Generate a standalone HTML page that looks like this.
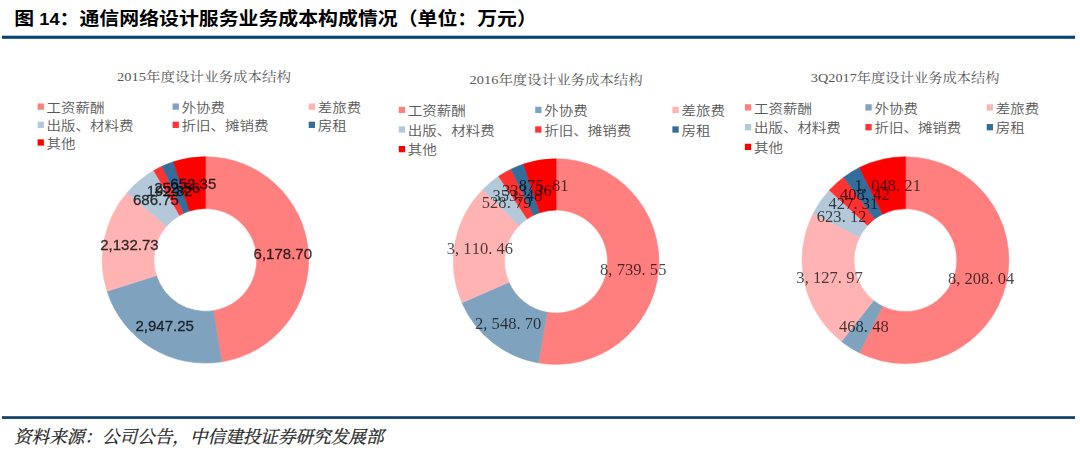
<!DOCTYPE html>
<html><head><meta charset="utf-8"><style>html,body{margin:0;padding:0;background:#fff;width:1080px;height:452px;overflow:hidden}svg{display:block}</style></head>
<body>
<svg width="1080" height="452" viewBox="0 0 1080 452">
<defs><filter id="soft" x="-5%" y="-5%" width="110%" height="110%"><feGaussianBlur stdDeviation="0.55"/></filter></defs>
<rect width="1080" height="452" fill="#fff"/>
<text transform="translate(0,17.9) scale(1,0.93)" y="7.6" font-family="'Liberation Sans','Noto Sans CJK SC',sans-serif" font-weight="bold" font-size="19.9" fill="#000"><tspan x="14.2">图</tspan><tspan x="39.3" font-size="18.2">14</tspan><tspan x="59.6">：通信网络设计服务业务成本构成情况（单位：万元）</tspan></text>
<rect x="2" y="35.7" width="1073" height="3.1" fill="#07446f"/>
<rect x="2" y="416.2" width="1073" height="2.7" fill="#0f3f69"/>
<text x="14" y="442.5" font-family="'Liberation Serif','Noto Serif CJK SC',serif" font-style="italic" font-size="17.6" fill="#222" stroke="#222" stroke-width="0.25">资料来源：公司公告，中信建投证券研究发展部</text>
<g filter="url(#soft)">
<path d="M205.40,156.70 A103.2,103.2 0 0 1 221.54,361.83 L213.44,310.67 A51.400000000000006,51.400000000000006 0 0 0 205.40,208.50 Z" fill="#ff7f7f" stroke="#ff7f7f" stroke-width="0.6" stroke-linejoin="round"/>
<path d="M221.54,361.83 A103.2,103.2 0 0 1 107.09,291.28 L156.43,275.53 A51.400000000000006,51.400000000000006 0 0 0 213.44,310.67 Z" fill="#7fa3bf" stroke="#7fa3bf" stroke-width="0.6" stroke-linejoin="round"/>
<path d="M107.09,291.28 A103.2,103.2 0 0 1 127.28,192.47 L166.49,226.31 A51.400000000000006,51.400000000000006 0 0 0 156.43,275.53 Z" fill="#ffb3b3" stroke="#ffb3b3" stroke-width="0.6" stroke-linejoin="round"/>
<path d="M127.28,192.47 A103.2,103.2 0 0 1 153.80,170.53 L179.70,215.39 A51.400000000000006,51.400000000000006 0 0 0 166.49,226.31 Z" fill="#b3c8d9" stroke="#b3c8d9" stroke-width="0.6" stroke-linejoin="round"/>
<path d="M153.80,170.53 A103.2,103.2 0 0 1 162.11,166.22 L183.84,213.24 A51.400000000000006,51.400000000000006 0 0 0 179.70,215.39 Z" fill="#ff3333" stroke="#ff3333" stroke-width="0.6" stroke-linejoin="round"/>
<path d="M162.11,166.22 A103.2,103.2 0 0 1 173.51,161.75 L189.52,211.02 A51.400000000000006,51.400000000000006 0 0 0 183.84,213.24 Z" fill="#336e99" stroke="#336e99" stroke-width="0.6" stroke-linejoin="round"/>
<path d="M173.51,161.75 A103.2,103.2 0 0 1 205.40,156.70 L205.40,208.50 A51.400000000000006,51.400000000000006 0 0 0 189.52,211.02 Z" fill="#ff0000" stroke="#ff0000" stroke-width="0.6" stroke-linejoin="round"/>
</g>
<text x="282.8" y="259.1" text-anchor="middle" font-family="'Liberation Sans',sans-serif" font-size="15" fill="#000" stroke="#000" stroke-width="0.3" opacity="0.8">6,178.70</text>
<text x="164.7" y="331.3" text-anchor="middle" font-family="'Liberation Sans',sans-serif" font-size="15" fill="#000" stroke="#000" stroke-width="0.3" opacity="0.8">2,947.25</text>
<text x="129.4" y="249.7" text-anchor="middle" font-family="'Liberation Sans',sans-serif" font-size="15" fill="#000" stroke="#000" stroke-width="0.3" opacity="0.8">2,132.73</text>
<text x="155.9" y="205.4" text-anchor="middle" font-family="'Liberation Sans',sans-serif" font-size="15" fill="#000" stroke="#000" stroke-width="0.3" opacity="0.8">686.75</text>
<text x="169.7" y="196.3" text-anchor="middle" font-family="'Liberation Sans',sans-serif" font-size="15" fill="#000" stroke="#000" stroke-width="0.3" opacity="0.8">192.82</text>
<text x="177.1" y="193.0" text-anchor="middle" font-family="'Liberation Sans',sans-serif" font-size="15" fill="#000" stroke="#000" stroke-width="0.3" opacity="0.8">252.56</text>
<text x="193.3" y="188.6" text-anchor="middle" font-family="'Liberation Sans',sans-serif" font-size="15" fill="#000" stroke="#000" stroke-width="0.3" opacity="0.8">652.35</text>
<text transform="translate(117.1,76.50) scale(1.0,0.87)" y="5.7" font-family="'Liberation Serif','Noto Serif CJK SC',serif" font-size="14.5" fill="#595959">2015年度设计业务成本结构</text>
<rect x="37.6" y="103.45" width="6.3" height="6.3" fill="#ff7f7f"/>
<text transform="translate(46.6,106.60) scale(1,0.89)" y="5.8" font-family="'Liberation Sans','Noto Sans CJK SC',sans-serif" font-size="14.5" font-weight="350" fill="#595959">工资薪酬</text>
<rect x="172.6" y="103.45" width="6.3" height="6.3" fill="#7fa3bf"/>
<text transform="translate(181.6,106.60) scale(1,0.89)" y="5.8" font-family="'Liberation Sans','Noto Sans CJK SC',sans-serif" font-size="14.5" font-weight="350" fill="#595959">外协费</text>
<rect x="308.7" y="103.45" width="6.3" height="6.3" fill="#ffb3b3"/>
<text transform="translate(317.7,106.60) scale(1,0.89)" y="5.8" font-family="'Liberation Sans','Noto Sans CJK SC',sans-serif" font-size="14.5" font-weight="350" fill="#595959">差旅费</text>
<rect x="37.6" y="121.65" width="6.3" height="6.3" fill="#b3c8d9"/>
<text transform="translate(46.6,124.80) scale(1,0.89)" y="5.8" font-family="'Liberation Sans','Noto Sans CJK SC',sans-serif" font-size="14.5" font-weight="350" fill="#595959">出版、材料费</text>
<rect x="172.6" y="121.65" width="6.3" height="6.3" fill="#ff3333"/>
<text transform="translate(181.6,124.80) scale(1,0.89)" y="5.8" font-family="'Liberation Sans','Noto Sans CJK SC',sans-serif" font-size="14.5" font-weight="350" fill="#595959">折旧、摊销费</text>
<rect x="308.7" y="121.65" width="6.3" height="6.3" fill="#336e99"/>
<text transform="translate(317.7,124.80) scale(1,0.89)" y="5.8" font-family="'Liberation Sans','Noto Sans CJK SC',sans-serif" font-size="14.5" font-weight="350" fill="#595959">房租</text>
<rect x="37.6" y="139.35" width="6.3" height="6.3" fill="#ff0000"/>
<text transform="translate(46.6,142.50) scale(1,0.89)" y="5.8" font-family="'Liberation Sans','Noto Sans CJK SC',sans-serif" font-size="14.5" font-weight="350" fill="#595959">其他</text>
<g filter="url(#soft)">
<path d="M556.10,158.80 A102.8,102.8 0 1 1 538.25,362.84 L547.16,312.32 A51.5,51.5 0 1 0 556.10,210.10 Z" fill="#ff7f7f" stroke="#ff7f7f" stroke-width="0.6" stroke-linejoin="round"/>
<path d="M538.25,362.84 A102.8,102.8 0 0 1 461.90,302.76 L508.91,282.22 A51.5,51.5 0 0 0 547.16,312.32 Z" fill="#7fa3bf" stroke="#7fa3bf" stroke-width="0.6" stroke-linejoin="round"/>
<path d="M461.90,302.76 A102.8,102.8 0 0 1 482.90,189.42 L519.43,225.44 A51.5,51.5 0 0 0 508.91,282.22 Z" fill="#ffb3b3" stroke="#ffb3b3" stroke-width="0.6" stroke-linejoin="round"/>
<path d="M482.90,189.42 A102.8,102.8 0 0 1 498.61,176.37 L527.30,218.90 A51.5,51.5 0 0 0 519.43,225.44 Z" fill="#b3c8d9" stroke="#b3c8d9" stroke-width="0.6" stroke-linejoin="round"/>
<path d="M498.61,176.37 A102.8,102.8 0 0 1 511.04,169.20 L533.52,215.31 A51.5,51.5 0 0 0 527.30,218.90 Z" fill="#ff3333" stroke="#ff3333" stroke-width="0.6" stroke-linejoin="round"/>
<path d="M511.04,169.20 A102.8,102.8 0 0 1 523.57,164.08 L539.80,212.75 A51.5,51.5 0 0 0 533.52,215.31 Z" fill="#336e99" stroke="#336e99" stroke-width="0.6" stroke-linejoin="round"/>
<path d="M523.57,164.08 A102.8,102.8 0 0 1 556.10,158.80 L556.10,210.10 A51.5,51.5 0 0 0 539.80,212.75 Z" fill="#ff0000" stroke="#ff0000" stroke-width="0.6" stroke-linejoin="round"/>
</g>
<text x="600.06 608.36 616.66 624.96 633.26 641.56 649.86 658.16" y="274.6" font-family="'Liberation Serif',serif" font-size="16.5" fill="#000" opacity="0.7">8,739.55</text>
<text x="475.00 483.30 491.60 499.90 508.20 516.50 524.80 533.10" y="328.7" font-family="'Liberation Serif',serif" font-size="16.5" fill="#000" opacity="0.7">2,548.70</text>
<text x="446.75 455.05 463.35 471.65 479.95 488.25 496.55 504.85" y="253.7" font-family="'Liberation Serif',serif" font-size="16.5" fill="#000" opacity="0.7">3,110.46</text>
<text x="481.73 490.03 498.33 506.63 514.93 523.23" y="208.2" font-family="'Liberation Serif',serif" font-size="16.5" fill="#000" opacity="0.7">528.79</text>
<text x="492.48 500.78 509.08 517.38 525.68 533.98" y="200.7" font-family="'Liberation Serif',serif" font-size="16.5" fill="#000" opacity="0.7">353.48</text>
<text x="501.90 510.20 518.50 526.80 535.10 543.40" y="196.1" font-family="'Liberation Serif',serif" font-size="16.5" fill="#000" opacity="0.7">333.36</text>
<text x="518.78 527.08 535.38 543.68 551.98 560.28" y="191.4" font-family="'Liberation Serif',serif" font-size="16.5" fill="#000" opacity="0.7">875.81</text>
<text transform="translate(469.6,79.50) scale(0.995,0.87)" y="5.7" font-family="'Liberation Serif','Noto Serif CJK SC',serif" font-size="14.5" fill="#595959">2016年度设计业务成本结构</text>
<rect x="398.8" y="106.75" width="6.3" height="6.3" fill="#ff7f7f"/>
<text transform="translate(407.8,109.90) scale(1,0.89)" y="5.8" font-family="'Liberation Sans','Noto Sans CJK SC',sans-serif" font-size="14.5" font-weight="350" fill="#595959">工资薪酬</text>
<rect x="535.2" y="106.75" width="6.3" height="6.3" fill="#7fa3bf"/>
<text transform="translate(544.2,109.90) scale(1,0.89)" y="5.8" font-family="'Liberation Sans','Noto Sans CJK SC',sans-serif" font-size="14.5" font-weight="350" fill="#595959">外协费</text>
<rect x="672.4" y="106.75" width="6.3" height="6.3" fill="#ffb3b3"/>
<text transform="translate(681.4,109.90) scale(1,0.89)" y="5.8" font-family="'Liberation Sans','Noto Sans CJK SC',sans-serif" font-size="14.5" font-weight="350" fill="#595959">差旅费</text>
<rect x="398.8" y="126.35" width="6.3" height="6.3" fill="#b3c8d9"/>
<text transform="translate(407.8,129.50) scale(1,0.89)" y="5.8" font-family="'Liberation Sans','Noto Sans CJK SC',sans-serif" font-size="14.5" font-weight="350" fill="#595959">出版、材料费</text>
<rect x="535.2" y="126.35" width="6.3" height="6.3" fill="#ff3333"/>
<text transform="translate(544.2,129.50) scale(1,0.89)" y="5.8" font-family="'Liberation Sans','Noto Sans CJK SC',sans-serif" font-size="14.5" font-weight="350" fill="#595959">折旧、摊销费</text>
<rect x="672.4" y="126.35" width="6.3" height="6.3" fill="#336e99"/>
<text transform="translate(681.4,129.50) scale(1,0.89)" y="5.8" font-family="'Liberation Sans','Noto Sans CJK SC',sans-serif" font-size="14.5" font-weight="350" fill="#595959">房租</text>
<rect x="398.8" y="145.95" width="6.3" height="6.3" fill="#ff0000"/>
<text transform="translate(407.8,149.10) scale(1,0.89)" y="5.8" font-family="'Liberation Sans','Noto Sans CJK SC',sans-serif" font-size="14.5" font-weight="350" fill="#595959">其他</text>
<g filter="url(#soft)">
<path d="M905.45,156.80 A103.4,103.4 0 1 1 859.36,352.76 L882.54,306.21 A51.400000000000006,51.400000000000006 0 1 0 905.45,208.80 Z" fill="#ff7f7f" stroke="#ff7f7f" stroke-width="0.6" stroke-linejoin="round"/>
<path d="M859.36,352.76 A103.4,103.4 0 0 1 841.43,341.40 L873.63,300.56 A51.400000000000006,51.400000000000006 0 0 0 882.54,306.21 Z" fill="#7fa3bf" stroke="#7fa3bf" stroke-width="0.6" stroke-linejoin="round"/>
<path d="M841.43,341.40 A103.4,103.4 0 0 1 813.27,213.36 L859.63,236.92 A51.400000000000006,51.400000000000006 0 0 0 873.63,300.56 Z" fill="#ffb3b3" stroke="#ffb3b3" stroke-width="0.6" stroke-linejoin="round"/>
<path d="M813.27,213.36 A103.4,103.4 0 0 1 829.35,190.20 L867.62,225.40 A51.400000000000006,51.400000000000006 0 0 0 859.63,236.92 Z" fill="#b3c8d9" stroke="#b3c8d9" stroke-width="0.6" stroke-linejoin="round"/>
<path d="M829.35,190.20 A103.4,103.4 0 0 1 843.74,177.23 L874.77,218.96 A51.400000000000006,51.400000000000006 0 0 0 867.62,225.40 Z" fill="#ff3333" stroke="#ff3333" stroke-width="0.6" stroke-linejoin="round"/>
<path d="M843.74,177.23 A103.4,103.4 0 0 1 859.53,167.56 L882.62,214.15 A51.400000000000006,51.400000000000006 0 0 0 874.77,218.96 Z" fill="#336e99" stroke="#336e99" stroke-width="0.6" stroke-linejoin="round"/>
<path d="M859.53,167.56 A103.4,103.4 0 0 1 905.45,156.80 L905.45,208.80 A51.400000000000006,51.400000000000006 0 0 0 882.62,214.15 Z" fill="#ff0000" stroke="#ff0000" stroke-width="0.6" stroke-linejoin="round"/>
</g>
<text x="947.89 956.19 964.49 972.79 981.09 989.39 997.69 1005.99" y="284.2" font-family="'Liberation Serif',serif" font-size="16.5" fill="#000" opacity="0.7">8,208.04</text>
<text x="838.96 847.26 855.56 863.86 872.16 880.46" y="332.0" font-family="'Liberation Serif',serif" font-size="16.5" fill="#000" opacity="0.7">468.48</text>
<text x="796.36 804.66 812.96 821.26 829.56 837.86 846.16 854.46" y="283.1" font-family="'Liberation Serif',serif" font-size="16.5" fill="#000" opacity="0.7">3,127.97</text>
<text x="816.73 825.03 833.33 841.63 849.93 858.23" y="222.1" font-family="'Liberation Serif',serif" font-size="16.5" fill="#000" opacity="0.7">623.12</text>
<text x="828.54 836.84 845.14 853.44 861.74 870.04" y="208.7" font-family="'Liberation Serif',serif" font-size="16.5" fill="#000" opacity="0.7">427.31</text>
<text x="839.95 848.25 856.55 864.85 873.15 881.45" y="200.2" font-family="'Liberation Serif',serif" font-size="16.5" fill="#000" opacity="0.7">408.42</text>
<text x="854.53 862.83 871.13 879.43 887.73 896.03 904.33 912.63" y="190.7" font-family="'Liberation Serif',serif" font-size="16.5" fill="#000" opacity="0.7">1,048.21</text>
<text transform="translate(810.8,76.90) scale(0.985,0.87)" y="5.7" font-family="'Liberation Serif','Noto Serif CJK SC',serif" font-size="14.5" fill="#595959">3Q2017年度设计业务成本结构</text>
<rect x="744.9" y="104.25" width="6.3" height="6.3" fill="#ff7f7f"/>
<text transform="translate(753.9,107.40) scale(1,0.89)" y="5.8" font-family="'Liberation Sans','Noto Sans CJK SC',sans-serif" font-size="14.5" font-weight="350" fill="#595959">工资薪酬</text>
<rect x="865.4" y="104.25" width="6.3" height="6.3" fill="#7fa3bf"/>
<text transform="translate(874.4,107.40) scale(1,0.89)" y="5.8" font-family="'Liberation Sans','Noto Sans CJK SC',sans-serif" font-size="14.5" font-weight="350" fill="#595959">外协费</text>
<rect x="986.7" y="104.25" width="6.3" height="6.3" fill="#ffb3b3"/>
<text transform="translate(995.7,107.40) scale(1,0.89)" y="5.8" font-family="'Liberation Sans','Noto Sans CJK SC',sans-serif" font-size="14.5" font-weight="350" fill="#595959">差旅费</text>
<rect x="744.9" y="124.05" width="6.3" height="6.3" fill="#b3c8d9"/>
<text transform="translate(753.9,127.20) scale(1,0.89)" y="5.8" font-family="'Liberation Sans','Noto Sans CJK SC',sans-serif" font-size="14.5" font-weight="350" fill="#595959">出版、材料费</text>
<rect x="865.4" y="124.05" width="6.3" height="6.3" fill="#ff3333"/>
<text transform="translate(874.4,127.20) scale(1,0.89)" y="5.8" font-family="'Liberation Sans','Noto Sans CJK SC',sans-serif" font-size="14.5" font-weight="350" fill="#595959">折旧、摊销费</text>
<rect x="986.7" y="124.05" width="6.3" height="6.3" fill="#336e99"/>
<text transform="translate(995.7,127.20) scale(1,0.89)" y="5.8" font-family="'Liberation Sans','Noto Sans CJK SC',sans-serif" font-size="14.5" font-weight="350" fill="#595959">房租</text>
<rect x="744.9" y="143.75" width="6.3" height="6.3" fill="#ff0000"/>
<text transform="translate(753.9,146.90) scale(1,0.89)" y="5.8" font-family="'Liberation Sans','Noto Sans CJK SC',sans-serif" font-size="14.5" font-weight="350" fill="#595959">其他</text>
</svg>
</body></html>
